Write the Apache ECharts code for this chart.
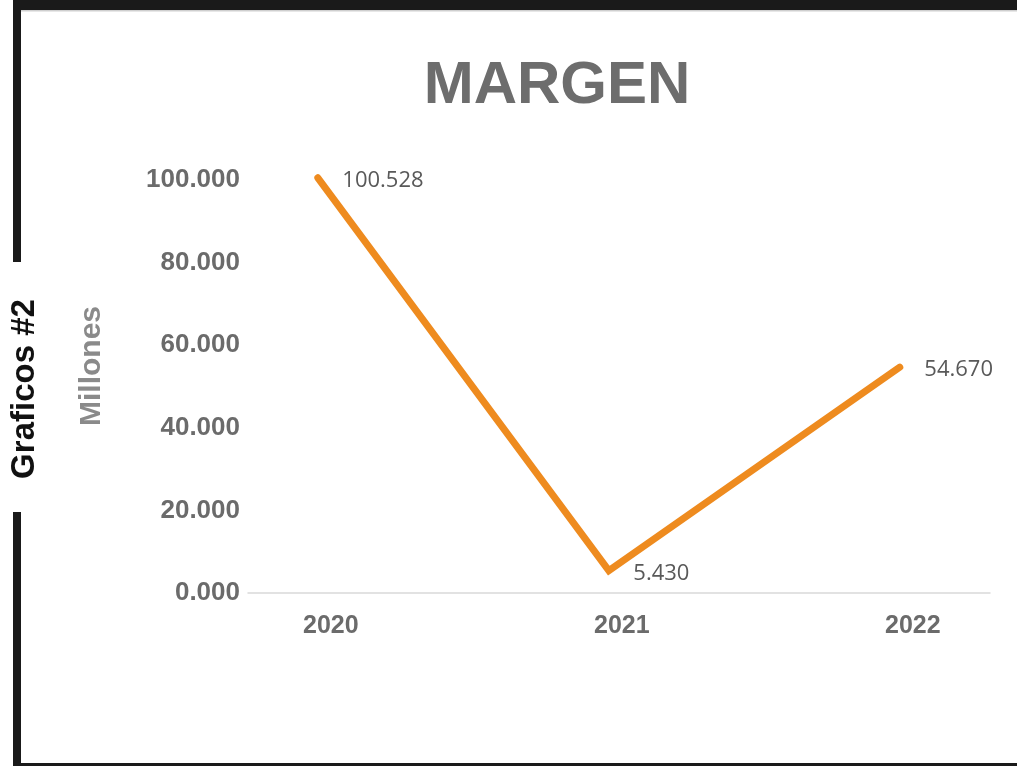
<!DOCTYPE html>
<html>
<head>
<meta charset="utf-8">
<script src="https://cdn.jsdelivr.net/npm/echarts@6/dist/echarts.min.js"></script>
<style>
html,body{margin:0;padding:0;background:#fff;}
#chart{width:1017px;height:766px;}
</style>
</head>
<body>
<div id="chart"></div>
<script>
// ---- data ----
const years = [2020, 2021, 2022];
const margen = [100.528, 5.430, 54.670];
const yMin = 0, yMax = 120, yStep = 20;
const titleText = 'MARGEN';
const yAxisTitle = 'Millones';
const sideText = 'Graficos #2';

const seriesData = years.map((y, i) => [y, margen[i]]);

const chart = echarts.init(document.getElementById('chart'), null, {renderer: 'canvas'});
chart.setOption({
  backgroundColor: '#ffffff',
  animation: false,
  title: {
    text: titleText,
    left: 552,
    top: 51,
    textAlign: 'center',
    textStyle: {fontFamily: 'Liberation Sans', fontWeight: 'bold', fontSize: 60, color: '#6d6d6d'}
  },
  grid: {left: 248, right: 27, top: 97.4, bottom: 173, containLabel: false},
  xAxis: {
    type: 'value',
    min: 2019.76,
    max: 2022.31,
    splitLine: {show: false},
    axisTick: {show: false},
    axisLine: {show: true, onZero: false, lineStyle: {color: '#d9d9d9', width: 1.5}},
    axisLabel: {
      customValues: years,
      formatter: v => String(v),
      margin: 21,
      padding: [0, 0, 0, 26],
      fontFamily: 'Liberation Sans', fontWeight: 'bold', fontSize: 25, color: '#6b6b6b'
    }
  },
  yAxis: {
    type: 'value',
    min: yMin, max: yMax, interval: yStep,
    splitLine: {show: false},
    axisLine: {show: false},
    axisTick: {show: false},
    axisLabel: {
      showMaxLabel: false,
      margin: 8,
      formatter: v => v.toFixed(3),
      fontFamily: 'Liberation Sans', fontWeight: 'bold', fontSize: 26, color: '#6b6b6b'
    }
  },
  series: [{
    type: 'line',
    data: seriesData,
    symbol: 'circle',
    symbolSize: 1,
    showSymbol: true,
    itemStyle: {color: 'rgba(0,0,0,0)'},
    clip: false,
    lineStyle: {color: '#ee8b1f', width: 7, cap: 'round', join: 'miter'},
    label: {
      show: true,
      position: 'right',
      distance: 22,
      offset: [2, 3],
      formatter: p => p.value[1].toFixed(3),
      fontFamily: '"Open Sans", "DejaVu Sans", sans-serif', fontSize: 22, color: '#595959'
    }
  }],
  graphic: [
    {type: 'rect', shape: {x: 13, y: 0, width: 1004, height: 10}, style: {fill: '#1a1a1a'}},
    {type: 'rect', shape: {x: 13, y: 0, width: 8, height: 262}, style: {fill: '#1a1a1a'}},
    {type: 'rect', shape: {x: 13, y: 512, width: 8, height: 254}, style: {fill: '#1a1a1a'}},
    {type: 'rect', shape: {x: 13, y: 763, width: 1004, height: 3}, style: {fill: '#1a1a1a'}},
    {type: 'rect', shape: {x: 21, y: 10, width: 996, height: 1.5}, style: {fill: '#cfcfcf'}},
    {
      type: 'text', x: 25, y: 389, rotation: Math.PI / 2,
      style: {text: sideText, textAlign: 'center', textVerticalAlign: 'middle',
        font: 'bold 33px "Liberation Sans"', fill: '#111111'}
    },
    {
      type: 'text', x: 92, y: 366, rotation: Math.PI / 2,
      style: {text: yAxisTitle, textAlign: 'center', textVerticalAlign: 'middle',
        font: 'bold 30px "Liberation Sans"', fill: '#8a8a8a'}
    }
  ]
});
</script>
</body>
</html>
